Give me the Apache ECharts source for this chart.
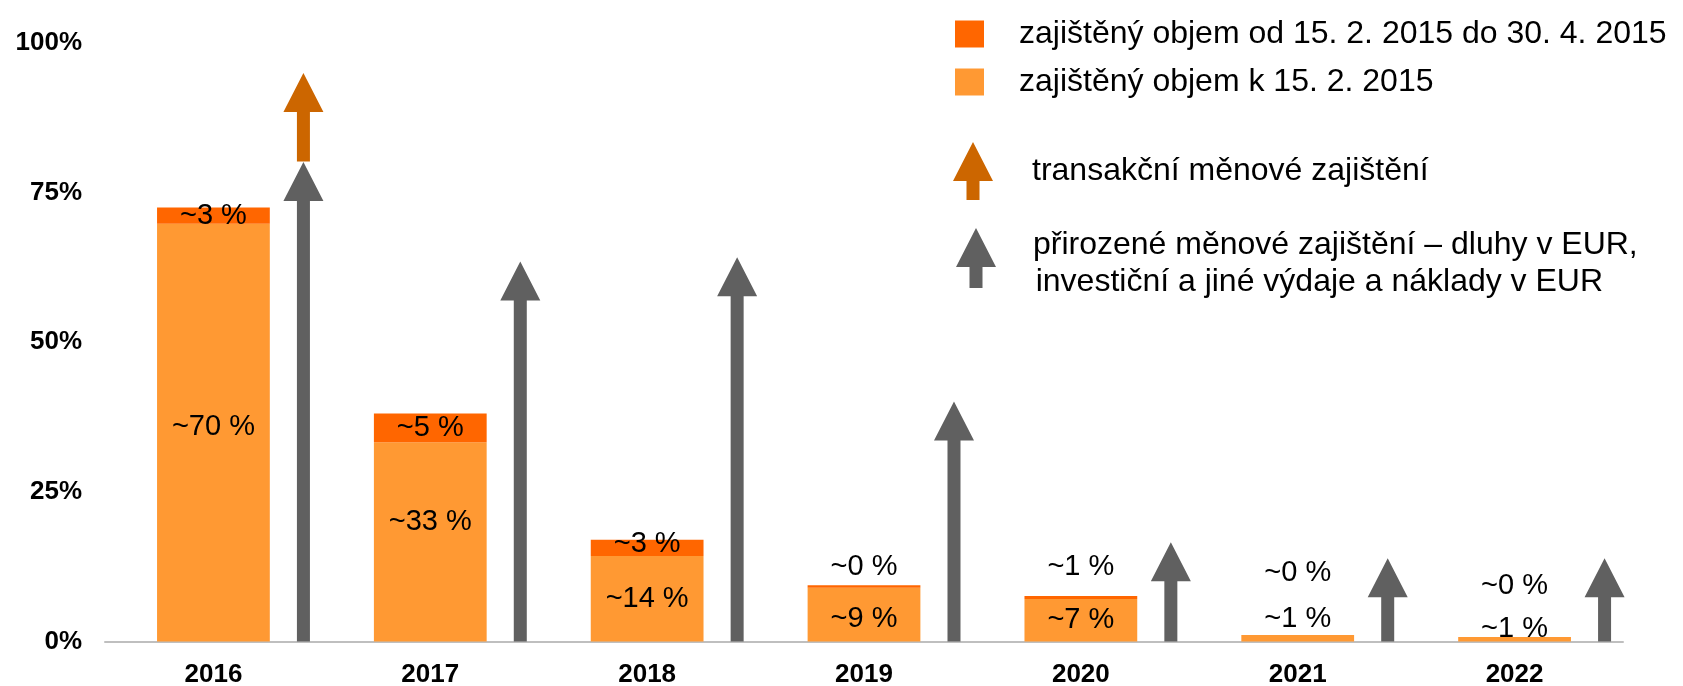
<!DOCTYPE html>
<html>
<head>
<meta charset="utf-8">
<script src="https://cdn.jsdelivr.net/npm/echarts@6/dist/echarts.min.js"></script>
<style>
  html, body { margin: 0; padding: 0; background: #fff; }
  #chart { width: 1683px; height: 686px; }
</style>
</head>
<body>
<div id="chart"></div>
<script>
var years = ['2016', '2017', '2018', '2019', '2020', '2021', '2022'];
var yTicks = [0, 25, 50, 75, 100];

// zajištěný objem k 15. 2. 2015
var hedgedBefore = [69.8, 33.3, 14.3, 9.0, 7.1, 1.1, 0.75];
var hedgedBeforeLabels = ['~70 %', '~33 %', '~14 %', '~9 %', '~7 %', '~1 %', '~1 %'];
// zajištěný objem od 15. 2. 2015 do 30. 4. 2015
var hedgedAfter = [2.7, 4.8, 2.7, 0.4, 0.5, 0, 0];
var hedgedAfterLabels = ['~3 %', '~5 %', '~3 %', '~0 %', '~1 %', '~0 %', '~0 %'];
// arrows: [year index, from, to]
var naturalHedge = [[0, 0, 80.1], [1, 0, 63.5], [2, 0, 64.2], [3, 0, 40.1], [4, 0, 16.6], [5, 0, 13.9], [6, 0, 13.9]];
var transactionHedge = [[0, 80.2, 95.0]];

var nameDark = 'zajištěný objem od 15. 2. 2015 do 30. 4. 2015';
var nameLight = 'zajištěný objem k 15. 2. 2015';
var nameOrangeArrow = 'transakční měnové zajištění';
var nameGrayArrow = 'přirozené měnové zajištění – dluhy v EUR,\n\u200Ainvestiční a jiné výdaje a náklady v EUR';

var FONT = "'Liberation Sans', Arial, sans-serif";
var arrowIcon = 'path://M20,0 L40,39 L26.5,39 L26.5,58 L13.5,58 L13.5,39 L0,39 Z';
// same arrow, with an empty tail so it sits a bit above the text centre
var arrowIconHigh = 'path://M20,0 L40,39 L26.5,39 L26.5,60 L13.5,60 L13.5,39 L0,39 Z M0,72 L0.1,72';

// label placement tweaks (layout only)
var lightLabelLayout = [{ offset: [0, -6] }, { offset: [0, -20] }, {}, { offset: [0, 4] }, {},
  { position: 'top', distance: 1 }, { position: 'top', distance: -6 }];
var darkLabelLayout = [{}, {}, { offset: [0, -4] }, { position: 'top', distance: 4 },
  { position: 'top', distance: 15 }, { position: 'top', distance: 47 }, { position: 'top', distance: 37 }];

function renderArrow(params, api) {
  var band = api.size([1, 0])[0];
  var from = api.coord([api.value(0), api.value(1)]);
  var to = api.coord([api.value(0), api.value(2)]);
  var x = from[0] + band * 0.415;
  var hw = 20, hh = 39, sw = 6.5;
  var yb = from[1], yt = to[1];
  return {
    type: 'polygon',
    shape: {
      points: [[x - sw, yb], [x - sw, yt + hh], [x - hw, yt + hh], [x, yt],
        [x + hw, yt + hh], [x + sw, yt + hh], [x + sw, yb]]
    },
    style: { fill: api.visual('color') }
  };
}

var chart = echarts.init(document.getElementById('chart'));
chart.setOption({
  animation: false,
  backgroundColor: '#fff',
  textStyle: { fontFamily: FONT },
  grid: { left: 105, right: 60, top: 43, bottom: 44.5, outerBoundsMode: 'none' },
  legend: [
    {
      data: [nameDark, nameLight],
      orient: 'vertical', left: 950, top: 11,
      itemWidth: 29, itemHeight: 27, itemGap: 12,
      icon: 'rect', selectedMode: false,
      textStyle: { fontSize: 32, color: '#000', fontFamily: FONT, lineHeight: 36, padding: [0, 0, 0, 30] }
    },
    {
      data: [{ name: nameOrangeArrow, icon: arrowIcon }],
      left: 948, top: 137,
      itemWidth: 40, itemHeight: 58, selectedMode: false,
      textStyle: { fontSize: 32, color: '#000', fontFamily: FONT, padding: [0, 0, 0, 34] }
    },
    {
      data: [{ name: nameGrayArrow, icon: arrowIconHigh }],
      left: 951, top: 222,
      itemWidth: 40, itemHeight: 72, selectedMode: false,
      textStyle: { fontSize: 32, color: '#000', fontFamily: FONT, lineHeight: 37, padding: [0, 0, 0, 32] }
    }
  ],
  xAxis: {
    type: 'category',
    data: years,
    axisLine: { lineStyle: { color: '#bfbfbf', width: 2 } },
    axisTick: { show: false },
    axisLabel: { fontSize: 26, fontWeight: 'bold', color: '#000', margin: 20, fontFamily: FONT }
  },
  yAxis: {
    type: 'value',
    min: yTicks[0], max: yTicks[yTicks.length - 1], interval: 25,
    splitLine: { show: false },
    axisLine: { show: false },
    axisTick: { show: false },
    axisLabel: {
      fontSize: 26, fontWeight: 'bold', color: '#000', margin: 23,
      formatter: '{value}%', fontFamily: FONT
    }
  },
  series: [
    {
      name: nameLight,
      type: 'bar',
      stack: 'objem',
      barWidth: '52%',
      itemStyle: { color: '#ff9933' },
      data: hedgedBefore.map(function (v, i) { return { value: v, label: lightLabelLayout[i] }; }),
      label: {
        show: true, position: 'inside', fontSize: 29, color: '#000', fontFamily: FONT,
        formatter: function (p) { return hedgedBeforeLabels[p.dataIndex]; }
      }
    },
    {
      name: nameDark,
      type: 'bar',
      stack: 'objem',
      barWidth: '52%',
      itemStyle: { color: '#ff6600' },
      data: hedgedAfter.map(function (v, i) { return { value: v, label: darkLabelLayout[i] }; }),
      label: {
        show: true, position: 'inside', fontSize: 29, color: '#000', fontFamily: FONT,
        formatter: function (p) { return hedgedAfterLabels[p.dataIndex]; }
      }
    },
    {
      name: nameGrayArrow,
      type: 'custom',
      itemStyle: { color: '#606060' },
      renderItem: renderArrow,
      encode: { x: 0, y: [1, 2] },
      data: naturalHedge,
      z: 3
    },
    {
      name: nameOrangeArrow,
      type: 'custom',
      itemStyle: { color: '#cc6600' },
      renderItem: renderArrow,
      encode: { x: 0, y: [1, 2] },
      data: transactionHedge,
      z: 3
    }
  ]
});
</script>
</body>
</html>
